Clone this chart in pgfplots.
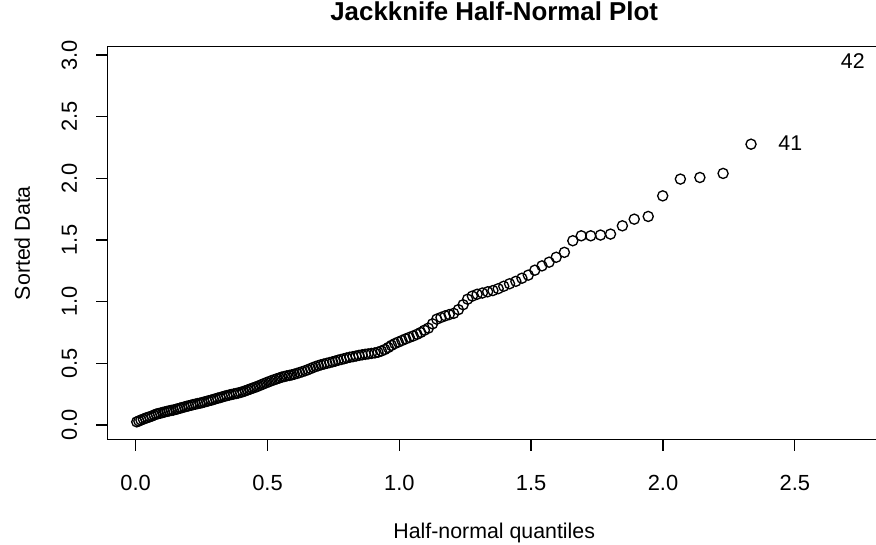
\documentclass[border=0pt]{standalone}
\usepackage{pgfplots}
\pgfplotsset{compat=1.18}
\usepackage{fontspec}
\setmainfont{Liberation Sans}
\pgfplotstableread{
x y
0.004 0.025
0.012 0.032
0.020 0.040
0.029 0.047
0.037 0.055
0.045 0.060
0.053 0.066
0.061 0.072
0.070 0.080
0.078 0.088
0.086 0.092
0.094 0.096
0.102 0.101
0.110 0.105
0.119 0.110
0.127 0.114
0.135 0.118
0.143 0.121
0.152 0.126
0.160 0.131
0.168 0.136
0.176 0.141
0.185 0.146
0.193 0.151
0.201 0.155
0.210 0.160
0.218 0.165
0.227 0.169
0.235 0.173
0.244 0.177
0.252 0.181
0.260 0.186
0.269 0.191
0.277 0.196
0.286 0.201
0.294 0.206
0.303 0.212
0.311 0.217
0.320 0.222
0.329 0.228
0.337 0.233
0.346 0.238
0.355 0.243
0.363 0.247
0.372 0.251
0.381 0.255
0.389 0.259
0.398 0.264
0.407 0.270
0.416 0.277
0.425 0.284
0.434 0.291
0.443 0.298
0.452 0.305
0.461 0.312
0.470 0.320
0.479 0.328
0.488 0.336
0.497 0.344
0.507 0.352
0.516 0.360
0.526 0.367
0.535 0.374
0.545 0.381
0.554 0.388
0.564 0.393
0.573 0.398
0.583 0.402
0.592 0.406
0.602 0.412
0.612 0.418
0.622 0.425
0.632 0.432
0.643 0.440
0.653 0.448
0.663 0.457
0.673 0.466
0.683 0.474
0.693 0.481
0.703 0.488
0.714 0.494
0.725 0.500
0.736 0.506
0.747 0.512
0.757 0.518
0.768 0.525
0.779 0.531
0.790 0.537
0.800 0.543
0.812 0.549
0.824 0.554
0.836 0.559
0.847 0.564
0.859 0.569
0.871 0.573
0.882 0.576
0.894 0.580
0.907 0.584
0.919 0.590
0.932 0.600
0.945 0.612
0.958 0.628
0.970 0.645
0.983 0.660
0.996 0.672
1.010 0.685
1.024 0.698
1.038 0.710
1.053 0.722
1.067 0.735
1.081 0.750
1.095 0.768
1.110 0.785
1.126 0.820
1.142 0.858
1.158 0.872
1.174 0.885
1.189 0.895
1.206 0.905
1.224 0.935
1.242 0.975
1.259 1.020
1.277 1.045
1.295 1.060
1.315 1.070
1.335 1.080
1.355 1.090
1.375 1.105
1.396 1.125
1.418 1.145
1.442 1.165
1.465 1.190
1.489 1.215
1.514 1.255
1.541 1.290
1.568 1.320
1.595 1.360
1.626 1.400
1.658 1.494
1.690 1.534
1.726 1.534
1.763 1.540
1.801 1.548
1.846 1.615
1.891 1.669
1.944 1.691
1.999 1.858
2.066 1.994
2.140 2.007
2.228 2.040
2.334 2.277
}\pts
\pgfplotstableread{
x y lab
2.483 2.285 41
2.720 2.950 42
}\labs
\begin{document}
\begin{tikzpicture}
\begin{axis}[
  scale only axis, width=580.1pt, height=294.6pt,
  xmin=-0.107, xmax=2.827, ymin=-0.118, ymax=3.068,
  axis line style={line width=1pt},
  tick align=outside, xtick pos=bottom, ytick pos=left,
  major tick length=8.5pt,
  every tick/.style={black, line width=1pt},
  xtick={0,0.5,1,1.5,2,2.5},
  ytick={0,0.5,1,1.5,2,2.5,3},
  /pgf/number format/.cd, fixed, fixed zerofill, precision=1, assume math mode=true,
  /pgfplots/.cd,
  tick label style={font=\fontsize{16.4}{19}\selectfont},
  xticklabel style={anchor=base},
  xticklabel shift=30.1pt,
  yticklabel style={rotate=90, anchor=base},
  yticklabel shift=14.4pt,
  title={Jackknife Half-Normal Plot},
  title style={at={(axis description cs:0.5,1.0475)}, anchor=base, font=\bfseries\fontsize{19.4}{23}\selectfont},
  xlabel={Half-normal quantiles},
  xlabel style={at={(axis description cs:0.5,-0.2508)}, anchor=base, font=\fontsize{16}{19}\selectfont},
  ylabel={Sorted Data},
  ylabel style={at={(axis description cs:-0.1002,0.5)}, anchor=base, font=\fontsize{16}{19}\selectfont},
]
\addplot[only marks, mark=o, mark size=3.8pt, mark options={line width=1pt, black}] table[x=x, y=y] {\pts};
\addplot[draw=none, mark=none, nodes near coords, point meta=explicit symbolic,
  nodes near coords align={center},
  every node near coord/.append style={font=\fontsize{16}{19}\selectfont, black}]
  table[x=x, y=y, meta=lab] {\labs};
\coordinate (bl) at (rel axis cs:0,0);
\coordinate (tr) at (rel axis cs:1,1);
\end{axis}
\pgfresetboundingbox
\path[use as bounding box] ([xshift=-80.6pt,yshift=-78.4pt]bl) rectangle ([xshift=-3.75pt,yshift=35pt]tr);
\end{tikzpicture}
\end{document}
